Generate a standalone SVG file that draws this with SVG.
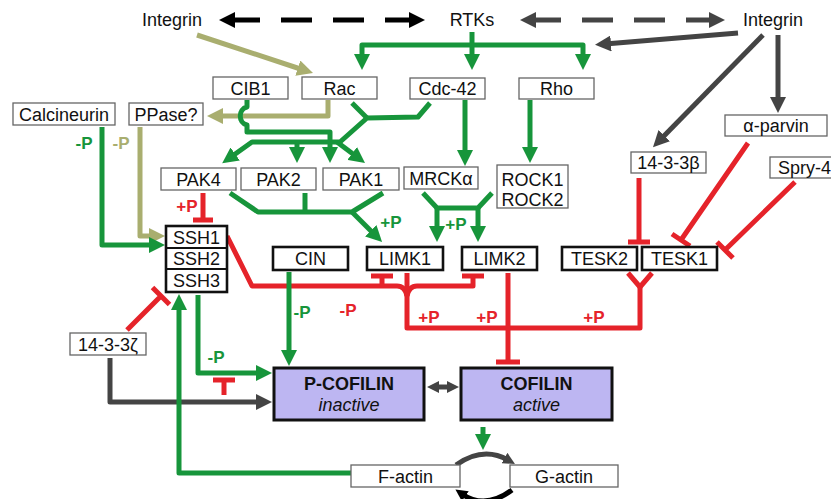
<svg xmlns="http://www.w3.org/2000/svg" width="831" height="499" viewBox="0 0 831 499">
<style>
text{font-family:"Liberation Sans",Arial,sans-serif;font-size:18px;fill:#111;text-anchor:middle}
.thin{fill:#fff;stroke:#666;stroke-width:1.3}
.thick{fill:#fff;stroke:#111;stroke-width:2.6}
.cof{fill:#bdb6f2;stroke:#111;stroke-width:3}
.c{fill:none;stroke-width:5;stroke-linejoin:round}
.g{stroke:#17953b}
.r{stroke:#e5232a}
.k{stroke:#444}
.o{stroke:#a9ae6f}
.b{stroke:#000}
.lbl{font-size:17px;font-weight:bold}
.lg{fill:#17953b}.lr{fill:#e5232a}.lo{fill:#a9ae6f}
.bold{font-weight:bold}
.it{font-style:italic}
</style>
<defs>
<marker id="ag" markerUnits="userSpaceOnUse" markerWidth="16" markerHeight="16" refX="6" refY="8" orient="auto-start-reverse"><path d="M0,0L16,8L0,16z" fill="#17953b"/></marker>
<marker id="ao" markerUnits="userSpaceOnUse" markerWidth="16" markerHeight="16" refX="6" refY="8" orient="auto-start-reverse"><path d="M0,0L16,8L0,16z" fill="#a9ae6f"/></marker>
<marker id="ak" markerUnits="userSpaceOnUse" markerWidth="16" markerHeight="16" refX="6" refY="8" orient="auto-start-reverse"><path d="M0,0L16,8L0,16z" fill="#444"/></marker>
<marker id="ab" markerUnits="userSpaceOnUse" markerWidth="16" markerHeight="16" refX="6" refY="8" orient="auto-start-reverse"><path d="M0,0L16,8L0,16z" fill="#000"/></marker>
<marker id="as" markerUnits="userSpaceOnUse" markerWidth="12" markerHeight="12" refX="4" refY="6" orient="auto-start-reverse"><path d="M0,0L12,6L0,12z" fill="#444"/></marker>
<marker id="asb" markerUnits="userSpaceOnUse" markerWidth="12" markerHeight="12" refX="4" refY="6" orient="auto-start-reverse"><path d="M0,0L12,6L0,12z" fill="#000"/></marker>
</defs>
<rect width="831" height="499" fill="#fff"/>

<g id="connectors">
<!-- top dashed -->
<path class="c b" d="M229,20H415" stroke-dasharray="31 21" marker-start="url(#ab)" marker-end="url(#ab)"/>
<path class="c k" d="M530,20H715" stroke-dasharray="31 21" marker-start="url(#ak)" marker-end="url(#ak)"/>
<!-- RTKs -->
<path class="c g" d="M472,32V60" marker-end="url(#ag)"/>
<path class="c g" d="M362,60V45H583V60" marker-start="url(#ag)" marker-end="url(#ag)"/>
<!-- Integrin right -->
<path class="c k" d="M738,33L605,44" marker-end="url(#ak)"/>
<path class="c k" d="M763,35L660,140" marker-end="url(#ak)"/>
<path class="c k" d="M778,35V103" marker-end="url(#ak)"/>
<!-- Integrin left olive -->
<path class="c o" d="M197,35L303.5,70" marker-end="url(#ao)"/>
<path class="c o" d="M328,100V116H217" marker-end="url(#ao)"/>
<path class="c o" d="M140,127V236H155" marker-end="url(#ao)"/>
<!-- Calcineurin -->
<path class="c g" d="M102,127V245H155" marker-end="url(#ag)"/>
<!-- CIB1 -->
<path class="c g" d="M247,100V107C238,109 238,123 247,125V132H330V153" marker-end="url(#ag)"/>
<!-- Rac / Cdc42 tree -->
<path class="c g" d="M352,103L367,118"/>
<path class="c g" d="M430,103L418,117L367,118L340,142H252L230.3,157.5" marker-end="url(#ag)"/>
<path class="c g" d="M297,142V153" marker-end="url(#ag)"/>
<path class="c g" d="M337,142L357,157" marker-end="url(#ag)"/>
<path class="c g" d="M465,100V156" marker-end="url(#ag)"/>
<path class="c g" d="M530,100V153" marker-end="url(#ag)"/>
<!-- PAK -> LIMK1 -->
<path class="c g" d="M230,193L258,212H352L383,193"/>
<path class="c g" d="M305,193V212"/>
<path class="c g" d="M352,212L375,235" marker-end="url(#ag)"/>
<!-- MRCK/ROCK -> LIMK -->
<path class="c g" d="M423,193L437,208H478L492,193"/>
<path class="c g" d="M437,208V232" marker-end="url(#ag)"/>
<path class="c g" d="M478,208V232" marker-end="url(#ag)"/>
<!-- PAK4 -| SSH1 -->
<path class="c r" d="M203,193V220M193,220H213"/>
<!-- SSH -| LIMK1/LIMK2 -->
<path class="c r" d="M227,236L252,286H397Q405,286 407,296"/>
<path class="c r" d="M473,276V286H417Q409,286 407,296"/>
<path class="c r" d="M382,286V276M371,276H393M462,276H484"/>
<!-- LIMK/TESK +P -->
<path class="c r" d="M407,273V328H640V286"/>
<path class="c r" d="M628,273L640,287L652,273"/>
<path class="c r" d="M508,273V362M496,362H520"/>
<!-- TESK inhibitors -->
<path class="c r" d="M639,178V242M628,242H650"/>
<path class="c r" d="M748,143L681,240M672,234L690,246"/>
<path class="c r" d="M795,182L725,250M717,242L733,258"/>
<!-- CIN, SSH -> P-cofilin -->
<path class="c g" d="M289,272V356" marker-end="url(#ag)"/>
<path class="c g" d="M198,295V373H262" marker-end="url(#ag)"/>
<path class="c r" d="M213,380H235" stroke-width="6"/>
<path class="c r" d="M224,380V395" stroke-width="6"/>
<!-- 14-3-3 zeta -->
<path class="c r" d="M127,330L161,296M152.5,287.5L169.5,304.5"/>
<path class="c k" d="M110,358V402H262" marker-end="url(#ak)"/>
<!-- F-actin -> SSH -->
<path class="c g" d="M351,473H179V304" marker-end="url(#ag)"/>
<!-- cofilin -->
<path class="c k" d="M435,387H451" stroke-width="4" marker-start="url(#as)" marker-end="url(#as)"/>
<path class="c g" d="M483,427V440" marker-end="url(#ag)"/>
<path class="c k" d="M456,465Q483,446 508,460" stroke-width="4.5" marker-end="url(#as)"/>
<path class="c b" d="M512,490Q485,510 462,494" stroke-width="5" marker-end="url(#asb)"/>
</g>

<g id="labels">
<text class="lbl lg" x="84" y="149">-P</text>
<text class="lbl lo" x="121" y="149">-P</text>
<text class="lbl lr" x="187" y="212">+P</text>
<text class="lbl lg" x="391" y="228">+P</text>
<text class="lbl lg" x="456" y="230">+P</text>
<text class="lbl lg" x="302" y="318">-P</text>
<text class="lbl lr" x="348" y="316">-P</text>
<text class="lbl lr" x="429" y="323">+P</text>
<text class="lbl lr" x="487" y="323">+P</text>
<text class="lbl lr" x="594" y="323">+P</text>
<text class="lbl lg" x="216" y="363">-P</text>
</g>

<g id="integrin-left"><text x="172" y="26">Integrin</text></g>
<g id="rtks"><text x="472" y="26">RTKs</text></g>
<g id="integrin-right"><text x="773" y="26">Integrin</text></g>

<g id="cib1"><rect class="thin" x="213" y="77" width="75" height="22"/><text x="250.5" y="94.5">CIB1</text></g>
<g id="rac"><rect class="thin" x="302" y="77" width="75" height="22"/><text x="339.5" y="94.5">Rac</text></g>
<g id="cdc42"><rect class="thin" x="410" y="78" width="75" height="21"/><text x="447.5" y="95">Cdc-42</text></g>
<g id="rho"><rect class="thin" x="519" y="78" width="75" height="21"/><text x="556.5" y="95">Rho</text></g>
<g id="calcineurin"><rect class="thin" x="13" y="103" width="102" height="22"/><text x="64" y="120.5">Calcineurin</text></g>
<g id="ppase"><rect class="thin" x="129" y="103" width="74" height="22"/><text x="166" y="120.5">PPase?</text></g>
<g id="pak4"><rect class="thin" x="161" y="168" width="75" height="22"/><text x="198.5" y="185.5">PAK4</text></g>
<g id="pak2"><rect class="thin" x="241" y="168" width="75" height="22"/><text x="278.5" y="185.5">PAK2</text></g>
<g id="pak1"><rect class="thin" x="323" y="168" width="76" height="22"/><text x="361" y="185.5">PAK1</text></g>
<g id="mrcka"><rect class="thin" x="404" y="167" width="74" height="22"/><text x="441" y="184.5">MRCKα</text></g>
<g id="rock"><rect class="thin" x="497" y="165" width="71" height="43"/><text x="532.5" y="186">ROCK1</text><text x="532.5" y="206">ROCK2</text></g>
<g id="aparvin"><rect class="thin" x="725" y="115" width="102" height="21"/><text x="776" y="132">α-parvin</text></g>
<g id="b1433"><rect class="thin" x="631" y="152" width="75" height="21"/><text x="668.5" y="169">14-3-3β</text></g>
<g id="spry4"><rect class="thin" x="770" y="157" width="70" height="21"/><text x="778" y="174" style="text-anchor:start">Spry-4</text></g>
<g id="ssh"><rect class="thick" x="166" y="226" width="61" height="66"/><path d="M166,248H227M166,269H227" stroke="#111" stroke-width="2"/><text x="196.5" y="243.5">SSH1</text><text x="196.5" y="265">SSH2</text><text x="196.5" y="287">SSH3</text></g>
<g id="cin"><rect class="thick" x="273" y="247" width="75" height="23"/><text x="310.5" y="265">CIN</text></g>
<g id="limk1"><rect class="thick" x="367" y="247" width="76" height="23"/><text x="405" y="265">LIMK1</text></g>
<g id="limk2"><rect class="thick" x="462" y="247" width="75" height="23"/><text x="499.5" y="265">LIMK2</text></g>
<g id="tesk2"><rect class="thick" x="562" y="247" width="75" height="23"/><text x="599.5" y="265">TESK2</text></g>
<g id="tesk1"><rect class="thick" x="642" y="247" width="75" height="23"/><text x="679.5" y="265">TESK1</text></g>
<g id="z1433"><rect class="thin" x="70" y="333" width="76" height="22"/><text x="108" y="350.5">14-3-3ζ</text></g>
<g id="pcofilin"><rect class="cof" x="274" y="368" width="150" height="52"/><text class="bold" x="349" y="390">P-COFILIN</text><text class="it" x="349" y="411">inactive</text></g>
<g id="cofilin"><rect class="cof" x="461" y="368" width="151" height="52"/><text class="bold" x="536.5" y="390">COFILIN</text><text class="it" x="536.5" y="411">active</text></g>
<g id="factin"><rect class="thin" x="351" y="465" width="109" height="22"/><text x="405.5" y="482.5">F-actin</text></g>
<g id="gactin"><rect class="thin" x="510" y="465" width="108" height="22"/><text x="564" y="482.5">G-actin</text></g>
</svg>
